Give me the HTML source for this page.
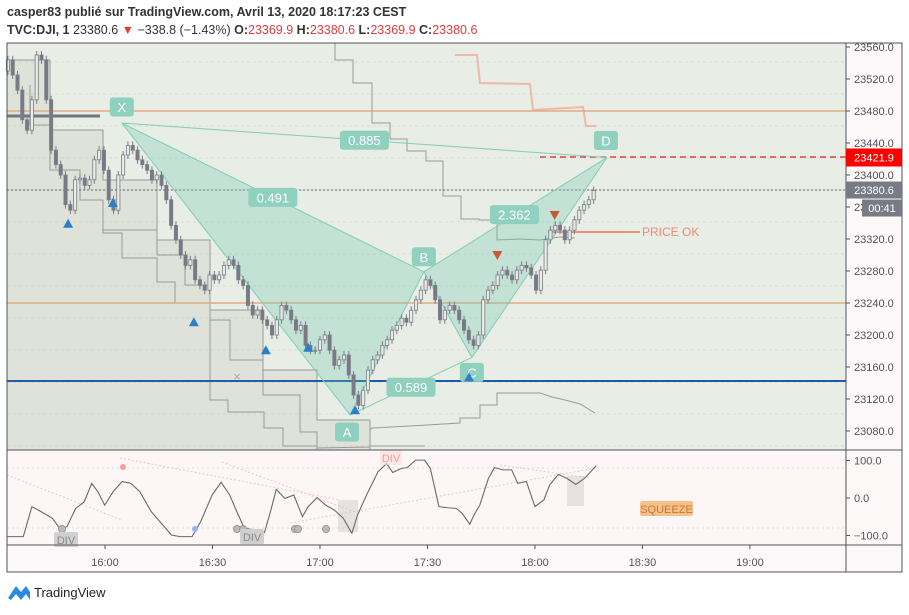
<!DOCTYPE html>
<html><head><meta charset="utf-8"><style>
body{margin:0;background:#fff;width:909px;height:610px;overflow:hidden;font-family:"Liberation Sans",sans-serif}
svg text{font-family:"Liberation Sans",sans-serif}
</style></head><body>
<svg id="chart" width="909" height="610" xmlns="http://www.w3.org/2000/svg">
<text x="7" y="16" font-size="12.5" font-weight="bold" fill="#333">casper83 publié sur TradingView.com, Avril 13, 2020 18:17:23 CEST</text>
<text x="7" y="34" font-size="12.5" fill="#333"><tspan font-weight="bold">TVC:DJI, 1</tspan>  23380.6 <tspan fill="#e03a3a">▼</tspan> −338.8 (−1.43%) <tspan font-weight="bold">O:</tspan><tspan fill="#e03a3a">23369.9</tspan> <tspan font-weight="bold">H:</tspan><tspan fill="#e03a3a">23380.6</tspan> <tspan font-weight="bold">L:</tspan><tspan fill="#e03a3a">23369.9</tspan> <tspan font-weight="bold">C:</tspan><tspan fill="#e03a3a">23380.6</tspan></text>
<rect x="7" y="43" width="839" height="407" fill="#e8ede5"/>
<rect x="7" y="450" width="839" height="95" fill="#fdf6f6"/>
<rect x="846" y="43" width="56" height="502" fill="#fdf8f8"/>
<rect x="7" y="545" width="895" height="27" fill="#fdf8f8"/>
<g id="grid"></g>
<g id="boxes" fill="none" stroke="#9a9c98" stroke-width="1">
<polygon points="7,60 50,60 50,130 103,130 103,180 157,180 157,240 210,240 210,310 263,310 263,370 317,370 317,420 370,420 370,450 7,450" fill="rgba(190,195,185,0.25)"/>
<polyline points="30,85 30,125 50,125 50,170 80,170 80,200 103,200 103,230 157,230 157,255 185,255 185,285 210,285 210,320 230,320 230,360 263,360 263,395 300,395 300,432 317,432 317,450"/>
<polyline points="103,205 103,233 122,233 122,258 157,258 157,282 175,282 175,303 210,303 210,400 228,400 228,412 264,412 264,428 283,428 283,446 317,446"/>
<polyline points="335,43 335,60 353,60 353,83 372,83 372,123 390,123 390,139 407,139 407,151 426,151 426,161 443,161 443,196 461,196 461,219 479,219 479,220 497,220 497,240 520,239 540,240 560,237 575,238"/>
<polyline points="370,430 372,428 410,426 460,423 460,418 480,418 480,405 497,405 497,393 540,393 552,397 565,400 580,404 595,413"/>
<polyline points="317,448 370,447 370,446 425,446"/>
</g>
<polyline points="455,55 477,55 480,83 530,84 533,110 583,107 586,126 596,126" fill="none" stroke="#f0b8a8" stroke-width="2"/>
<line x1="7" y1="111" x2="846" y2="111" stroke="#e0a070" stroke-width="1.2"/>
<line x1="7" y1="303" x2="846" y2="303" stroke="#e0a070" stroke-width="1.2"/>
<line x1="7" y1="381" x2="846" y2="381" stroke="#1e5ba8" stroke-width="2"/>
<line x1="7" y1="116" x2="100" y2="116" stroke="#70767a" stroke-width="3"/>
<line x1="7" y1="190" x2="846" y2="190" stroke="#60636e" stroke-width="1" stroke-dasharray="2,2"/>
<line x1="540" y1="157" x2="846" y2="157" stroke="#e02020" stroke-width="1.2" stroke-dasharray="6,4"/>
<line x1="548" y1="232" x2="640" y2="232" stroke="#f09080" stroke-width="2"/>
<text x="642" y="236" font-size="12" fill="#f08878">PRICE OK</text>
<g id="pattern"></g>
<g id="candles"></g>
<g id="markers"></g>
<g id="osc"></g>
<g id="axes"></g>
<rect x="7" y="43" width="895" height="529" fill="none" stroke="#50535e" stroke-width="1"/>
<line x1="846" y1="43" x2="846" y2="572" stroke="#50535e"/>
<line x1="7" y1="450" x2="902" y2="450" stroke="#50535e"/>
<line x1="7" y1="545" x2="902" y2="545" stroke="#50535e"/>
<g id="pricelabels"></g>
<g>
<path d="M8,598 L16,586 L21,592 L26,586 L30,592 L30,600 L26,594 L21,600 L16,594 L11,600 Z" fill="#2a8ae2"/>
<text x="34" y="597" font-size="13" fill="#222">TradingView</text>
</g>
</svg>
<script>
const NS='http://www.w3.org/2000/svg';
const priceTicks=[23560,23520,23480,23440,23400,23360,23320,23280,23240,23200,23160,23120,23080];
const timeTicks=[60,90,120,150,180,210,240];
const timeLabels=['16:00','16:30','17:00','17:30','18:00','18:30','19:00'];
const startMin=32.9;
const barMinutes=1.34;
const closes=[23544,23525,23506,23469,23456,23494,23550,23544,23494,23431,23413,23400,23363,23356,23394,23396,23387,23394,23419,23431,23406,23369,23356,23400,23425,23437,23431,23419,23413,23406,23394,23400,23387,23369,23337,23319,23300,23287,23294,23269,23262,23256,23275,23269,23275,23287,23294,23287,23269,23262,23237,23225,23231,23219,23212,23200,23219,23237,23231,23219,23206,23212,23187,23181,23181,23194,23200,23181,23162,23169,23175,23150,23125,23112,23131,23156,23169,23175,23187,23194,23206,23212,23221,23216,23231,23244,23256,23269,23262,23244,23219,23231,23237,23231,23219,23206,23194,23187,23200,23244,23256,23262,23275,23281,23275,23269,23281,23287,23284,23275,23256,23281,23319,23331,23337,23331,23319,23331,23344,23356,23363,23369,23380.6];
const firstOpen=23530;
const oscTimes=[32.6,37.2,39.6,42.1,45.3,47.7,49.4,51.8,54.2,56.3,58,59.9,62.3,64.8,67.2,69.7,72.9,75.3,78.6,81,84.3,86.7,89.9,92.4,94.8,96.4,98.9,102.1,104.5,106.2,107.8,110.2,112.7,115.1,116.7,119.2,121.6,124,126.5,128.9,130.5,133,136.2,138.6,140.3,142.7,144.3,146.7,149.2,150.8,153.2,155.7,158.1,159.7,161.8,163,164.6,167,168.7,171.1,173.5,175.2,177.6,180,182.5,184.1,186.5,189,191.4,193.8,197.1];
const oscValues=[-103,-103,-23,-36,-54,-85,-76,-28,-10,39,17,-19,17,44,39,17,-36,-63,-99,-103,-103,-63,8,42,8,-28,-81,-85,-92,-36,23,-1,8,-50,-23,1,-19,-32,-54,-94,-45,8,70,92,68,79,81,101,101,79,-23,-26,-28,-41,-70,-45,-19,52,81,75,75,39,44,-23,-5,35,63,52,36,52,86];
const patternNames=['X','A','B','C','D'];
const patternTimes=[64.7,128.4,149,162.4,200.1];
const patternPrices=[23465,23100,23279,23172,23421.9];
const ratioLabels=['0.885','0.491','2.362','0.589'];
const upMarkerTimes=[49.7,62.2,84.8,104.9,116.7,129.8,161.6];
const upMarkerPrices=[23339,23365,23216,23181,23184,23106,23147];
const downMarkerTimes=[169.5,185.5];
const downMarkerPrices=[23300,23350];
const oscTickVals=[100,0,-100];

function xT(t){return 105+(t-60)*3.583;}
function yP(p){return 47+(23560-p)*0.8;}
function yO(v){return 498-v*0.375;}
function mk(tag,attrs,parent){const e=document.createElementNS(NS,tag);for(const k in attrs)e.setAttribute(k,attrs[k]);parent.appendChild(e);return e;}

const grid=document.getElementById('grid');
priceTicks.forEach(p=>{const l=mk('line',{x1:7,x2:846,y1:yP(p)+15,y2:yP(p)+15,stroke:'#cfd3cc','stroke-dasharray':'3,3','stroke-width':0.8},grid);

});

const axes=document.getElementById('axes');
priceTicks.forEach(p=>{const y=yP(p);
const tk=mk('line',{x1:846,x2:850,y1:y,y2:y,stroke:'#50535e'},axes);


const t=mk('text',{x:854,y:y+4,'font-size':11,fill:'#50535e'},axes);t.textContent=p.toFixed(1);

});
timeTicks.forEach((m,i)=>{const x=xT(m);
const tk=mk('line',{x1:x,x2:x,y1:545,y2:549,stroke:'#50535e'},axes);


const t=mk('text',{x:x,y:566,'font-size':11,fill:'#50535e','text-anchor':'middle'},axes);t.textContent=timeLabels[i];

});
oscTickVals.forEach(v=>{const y=yO(v);
const tk=mk('line',{x1:846,x2:850,y1:y,y2:y,stroke:'#50535e'},axes);


const t=mk('text',{x:854,y:y+4,'font-size':11,fill:'#50535e'},axes);t.textContent=v===0?'0.0':(v<0?'−100.0':'100.0');

});

// pattern
const pat=document.getElementById('pattern');
const P=patternNames.map((n,i)=>[xT(patternTimes[i]),yP(patternPrices[i])]);
const tri1=mk('polygon',{points:[P[0],P[1],P[2]].map(p=>p.join(',')).join(' '),fill:'rgba(110,200,175,0.3)',stroke:'#7fcdbb','stroke-width':1},pat);


const tri2=mk('polygon',{points:[P[2],P[3],P[4]].map(p=>p.join(',')).join(' '),fill:'rgba(110,200,175,0.3)',stroke:'#7fcdbb','stroke-width':1},pat);


[[0,4],[1,3]].forEach(([a,b])=>{const l=mk('line',{x1:P[a][0],y1:P[a][1],x2:P[b][0],y2:P[b][1],stroke:'#7fcdbb','stroke-width':1},pat);

});
function tag(cx,cy,w,txt,name){const g=mk('g',{},pat);


mk('rect',{x:cx-w/2,y:cy-9.5,width:w,height:19,rx:3,fill:'#8fd0bf'},g);
const t=mk('text',{x:cx,y:cy+5,'text-anchor':'middle','font-size':13,fill:'#fff'},g);t.textContent=txt;}
tag(P[0][0],P[0][1]-16,24,'X','point-x-label');
tag(P[1][0]-3,P[1][1]+17,24,'A','point-a-label');
tag(P[2][0],P[2][1]-15,24,'B','point-b-label');
tag(P[3][0],P[3][1]+15,24,'C','point-c-label');
tag(P[4][0]-1,P[4][1]-17,24,'D','point-d-label');
tag((P[0][0]+P[4][0])/2,(P[0][1]+P[4][1])/2,49,ratioLabels[0],'ratio-xd-label');
tag((P[0][0]+P[2][0])/2,(P[0][1]+P[2][1])/2,49,ratioLabels[1],'ratio-xb-label');
tag((P[2][0]+P[4][0])/2-1,(P[2][1]+P[4][1])/2,49,ratioLabels[2],'ratio-bd-label');
tag((P[1][0]+P[3][0])/2,(P[1][1]+P[3][1])/2+1,49,ratioLabels[3],'ratio-ac-label');

// candles
const cg=document.getElementById('candles');
closes.forEach((c,i)=>{const o=i===0?firstOpen:closes[i-1];const x=xT(startMin+i*barMinutes);
const y1=yP(Math.max(o,c)),y2=yP(Math.min(o,c));const up=c>=o;
const w=mk('line',{x1:x,x2:x,y1:y1-4,y2:y2+4,stroke:'#787b86','stroke-width':1},cg);


const b=mk('rect',{x:x-1.6,y:y1,width:3.2,height:Math.max(1,y2-y1),fill:up?'#e8ede5':'#787b86',stroke:'#787b86','stroke-width':0.8},cg);

});

// markers
const mg=document.getElementById('markers');
upMarkerTimes.forEach((t,i)=>{const x=xT(t),y=yP(upMarkerPrices[i]);
const m=mk('polygon',{points:`${x-5},${y+4} ${x+5},${y+4} ${x},${y-5}`,fill:'#2a7fc8'},mg);

});
downMarkerTimes.forEach((t,i)=>{const x=xT(t),y=yP(downMarkerPrices[i]);
const m=mk('polygon',{points:`${x-5},${y-4} ${x+5},${y-4} ${x},${y+5}`,fill:'#c8583a'},mg);

});
const xm=mk('text',{x:237,y:381,'font-size':13,fill:'#aaa','text-anchor':'middle'},mg);xm.textContent='×';



// oscillator
const og=document.getElementById('osc');
[80,-80].forEach(v=>{const l=mk('line',{x1:7,x2:846,y1:yO(v),y2:yO(v),stroke:'#ddd','stroke-dasharray':'2,3'},og);

});
[[7,475,122,520],[120,458,340,500],[222,462,355,512],[290,523,596,468],[500,465,590,478]].forEach(s=>{const l=mk('line',{x1:s[0],y1:s[1],x2:s[2],y2:s[3],stroke:'#f0c8c8','stroke-dasharray':'2,2'},og);

});
[[338,500,20,32],[567,476,17,30]].forEach(r=>{const e=mk('rect',{x:r[0],y:r[1],width:r[2],height:r[3],fill:'rgba(190,190,190,0.35)'},og);

});
const op=mk('polyline',{points:oscTimes.map((t,i)=>xT(t)+','+yO(oscValues[i])).join(' '),fill:'none',stroke:'#6a6a6a','stroke-width':1.1},og);


[[62,529],[237,529],[243,529],[295,529],[298,529],[326,529]].forEach(c=>{const e=mk('circle',{cx:c[0],cy:c[1],r:3.5,fill:'#bbb',stroke:'#999'},og);

});
const pd=mk('circle',{cx:123,cy:467,r:3,fill:'#f4a0a0'},og);


const bd=mk('circle',{cx:195,cy:529,r:3,fill:'#90b8f0'},og);


function lab(x,y,w,txt,fill,col,name){const g=mk('g',{},og);


mk('rect',{x:x,y:y,width:w,height:15,rx:2,fill:fill},g);
const t=mk('text',{x:x+w/2,y:y+12,'font-size':11,fill:col,'text-anchor':'middle'},g);t.textContent=txt;}
lab(54,532,24,'DIV','#d0d0d0','#888','div-label-1');
lab(240,529,24,'DIV','#d0d0d0','#888','div-label-2');
lab(380,450,22,'DIV','rgba(250,220,220,0.6)','#f0a0a0','div-label-bear');
lab(640,501,53,'SQUEEZE','#f5c08a','#c47a30','squeeze-label');

// price labels
const pl=document.getElementById('pricelabels');
function plab(y,h,txt,fill,x,w,name){const g=mk('g',{},pl);


mk('rect',{x:x,y:y,width:w,height:h,fill:fill},g);
const t=mk('text',{x:x+w/2,y:y+h/2+4,'font-size':11,fill:'#fff','text-anchor':'middle'},g);t.textContent=txt;}
plab(yP(23421.9)-9,18,'23421.9','#ff0000',846,56,'target-price-label');
plab(yP(23380.6)-9,17,'23380.6','#787b86',846,56,'last-price-label');
plab(yP(23380.6)+9,17,'00:41','#787b86',862,40,'bar-countdown-label');
</script>
</body></html>
